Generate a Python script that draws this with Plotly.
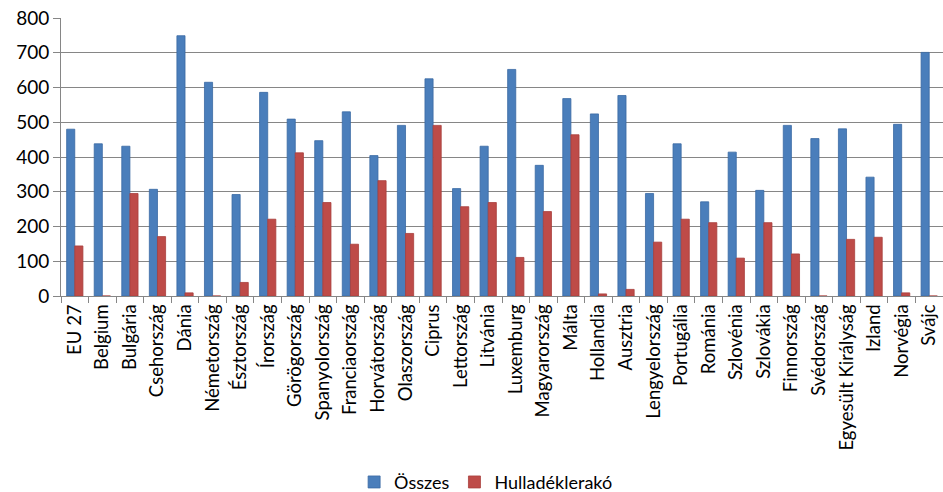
import plotly.graph_objects as go

categories = ["EU 27", "Belgium", "Bulgária", "Csehország", "Dánia", "Németország",
              "Észtország", "Írország", "Görögország", "Spanyolország", "Franciaország",
              "Horvátország", "Olaszország", "Ciprus", "Lettország", "Litvánia", "Luxemburg",
              "Magyarország", "Málta", "Hollandia", "Ausztria", "Lengyelország", "Portugália",
              "Románia", "Szlovénia", "Szlovákia", "Finnország", "Svédország",
              "Egyesült Királyság", "Izland", "Norvégia", "Svájc"]
osszes = [480, 438, 431, 307, 749, 615, 292, 586, 509, 447, 530, 404, 491, 625, 309, 431,
          652, 376, 568, 524, 577, 295, 438, 271, 414, 304, 491, 453, 481, 342, 494, 701]
hulladek = [144, 0, 295, 171, 9, 0, 39, 221, 412, 269, 149, 332, 180, 491, 257, 269,
            111, 243, 464, 6, 19, 155, 221, 211, 109, 211, 121, 0, 163, 169, 9, 0]
y_ticks = [0, 100, 200, 300, 400, 500, 600, 700, 800]

FONT = "Lato, 'Open Sans', sans-serif"
GRID = "#868686"

fig = go.Figure()
fig.add_trace(go.Bar(x=categories, y=osszes, name="Összes",
                     marker=dict(color="#4A7EBB", line=dict(color="#3A6AA3", width=0.8))))
fig.add_trace(go.Bar(x=categories, y=hulladek, name="Hulladéklerakó",
                     marker=dict(color="#BE4B48", line=dict(color="#A83F3C", width=0.8))))

fig.update_layout(
    width=943, height=492,
    margin=dict(l=61, r=0, t=18, b=196, autoexpand=False),
    paper_bgcolor="white", plot_bgcolor="white",
    barmode="group", bargap=0.41, bargroupgap=0,
    font=dict(family=FONT, size=18, color="#000000"),
    legend=dict(orientation="h", x=0.482, xanchor="center", y=-0.67, yanchor="middle",
                font=dict(size=18), itemwidth=30, traceorder="normal"),
    showlegend=True,
)
fig.update_xaxes(
    type="category", range=[-0.5, 31.5], tickangle=-90, tickson="boundaries",
    ticks="outside", ticklen=6, tickcolor=GRID, showline=True, linecolor=GRID, linewidth=1,
    showgrid=False, tickfont=dict(size=18.5, family=FONT),
)
fig.update_yaxes(
    range=[0, 800], tickvals=y_ticks, showgrid=True, gridcolor=GRID, gridwidth=1,
    ticks="outside", ticklen=7, tickcolor=GRID, showline=True, linecolor=GRID, linewidth=1,
    zeroline=False, tickfont=dict(size=19, family=FONT),
)

fig.write_html("out.html")
